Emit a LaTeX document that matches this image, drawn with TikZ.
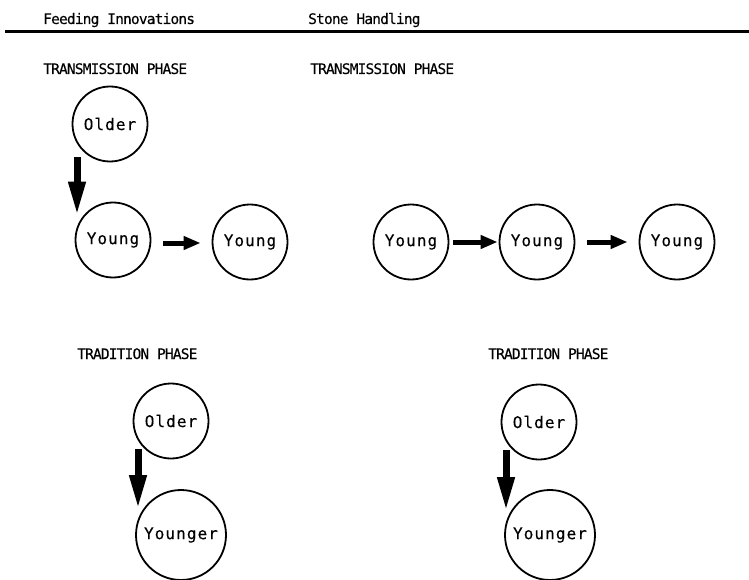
\documentclass[tikz,border=0pt]{standalone}
\usepackage{fontspec}
\usetikzlibrary{arrows.meta}
\newfontfamily\headfont[LetterSpace=-5.7,FakeBold=0.25]{DejaVu Sans Mono}
\newfontfamily\circfont[LetterSpace=6.7,FakeBold=0.25]{DejaVu Sans Mono}
\begin{document}
\begin{tikzpicture}[x=1pt,y=-1pt,
  heading/.style={anchor=base west,inner sep=0pt,font=\headfont\fontsize{14.5}{16}\selectfont},
  person/.style={circle,draw,line width=1.8pt,inner sep=0pt,font=\circfont\fontsize{16}{18}\selectfont},
  small/.style={person,minimum size=75pt},
  large/.style={person,minimum size=90pt},
  downarr/.style={line width=7pt,-{Triangle[length=34pt,width=16pt]}},
  sidearr/.style={line width=5pt,-{Triangle[length=17pt,width=13pt]}}]
\useasboundingbox (0,0) rectangle (749,580);

% column headings and rule
\node[heading] (h1) at (43,24) {Feeding Innovations};
\node[heading] (h2) at (308,24) {Stone Handling};
\coordinate (rl) at (5,31.5);
\coordinate (rr) at (749,31.5);
\draw[line width=2.5pt] (rl) -- (rr);

% phase titles
\node[heading] (t1) at (43,74) {TRANSMISSION PHASE};
\node[heading] (t2) at (310,74) {TRANSMISSION PHASE};
\node[heading] (d1) at (77,359) {TRADITION PHASE};
\node[heading] (d2) at (488,359) {TRADITION PHASE};

% feeding innovations, transmission
\node[small] (o1) at (110,124) {Older};
\node[small] (y1) at (113,240) {Young};
\node[small] (y2) at (250,242) {Young};
\draw[downarr] ([xshift=-33pt,yshift=5pt]o1.south) -- ([xshift=-36pt,yshift=-14pt]y1.north);
\draw[sidearr] ([xshift=12pt,yshift=-3pt]y1.east) -- ([xshift=-11pt,yshift=-1pt]y2.west);

% stone handling, transmission
\node[small] (y3) at (411,242) {Young};
\node[small] (y4) at (537,242) {Young};
\node[small] (y5) at (677,242) {Young};
\draw[sidearr] ([xshift=4pt]y3.east) -- ([xshift=-1pt]y4.west);
\draw[sidearr] ([xshift=12pt]y4.east) -- ([xshift=-11pt]y5.west);

% feeding innovations, tradition
\node[small] (o3) at (171,421) {Older};
\node[large] (g3) at (181,535) {Younger};
\draw[downarr] ([xshift=-33pt,yshift=10pt]o3.south) -- ([xshift=-43pt,yshift=-20pt]g3.north);

% stone handling, tradition
\node[small] (o4) at (539,422) {Older};
\node[large] (g4) at (550,535) {Younger};
\draw[downarr] ([xshift=-33pt,yshift=10pt]o4.south) -- ([xshift=-44pt,yshift=-22pt]g4.north);
\end{tikzpicture}
\end{document}
